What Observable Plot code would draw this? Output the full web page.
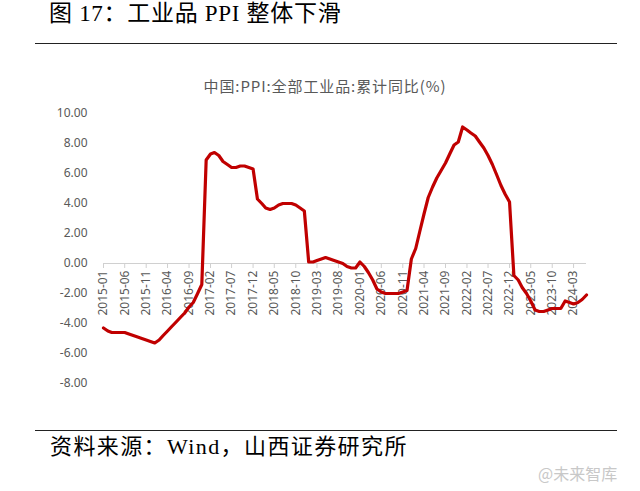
<!DOCTYPE html>
<html>
<head>
<meta charset="utf-8">
<script src="https://cdn.jsdelivr.net/npm/d3@7"></script>
<script src="https://cdn.jsdelivr.net/npm/@observablehq/plot@0.6"></script>
<style>
  html, body { margin: 0; padding: 0; background: #fff; }
  #page { position: relative; width: 640px; height: 491px; overflow: hidden; background: #fff; }
  .abs { position: absolute; white-space: nowrap; }
  #title { left: 49px; top: 0px; font: 23px "Liberation Serif", "Noto Sans CJK SC", serif; color: #000; line-height: 28px; letter-spacing: 0.7px; }
  #rule1 { left: 35px; top: 43px; width: 582px; height: 0; border-top: 1.5px solid #222; }
  #ctitle { left: 0; width: 650px; top: 75px; text-align: center; font: 15px "Noto Sans CJK SC", sans-serif; color: #595959; letter-spacing: 0.9px; }
  #chart { left: 0; top: 100px; }
  #rule2 { left: 35px; top: 430px; width: 582px; height: 0; border-top: 1.5px solid #222; }
  #source { left: 50px; top: 433px; font: 22px "Liberation Serif", "Noto Sans CJK SC", serif; color: #000; line-height: 28px; letter-spacing: 1.4px; }
  #wm { left: 538px; top: 461px; font: 16px "Noto Sans CJK SC", sans-serif; color: #c8c8c8; }
</style>
</head>
<body>
<div id="page">
  <div id="title" class="abs">图 17：工业品 PPI 整体下滑</div>
  <div id="rule1" class="abs"></div>
  <div id="ctitle" class="abs">中国:PPI:全部工业品:累计同比(%)</div>
  <div id="chart" class="abs"></div>
  <div id="rule2" class="abs"></div>
  <div id="source" class="abs">资料来源：Wind，山西证券研究所</div>
  <div id="wm" class="abs">@未来智库</div>
</div>
<script>
// PPI cumulative YoY (%) by year, Jan..Dec
const years = [2015, 2016, 2017, 2018, 2019, 2020, 2021, 2022, 2023, 2024];
const ppi2015 = [-4.3, -4.5, -4.6, -4.6, -4.6, -4.6, -4.7, -4.8, -4.9, -5.0, -5.1, -5.2];
const ppi2016 = [-5.3, -5.1, -4.8, -4.5, -4.2, -3.9, -3.6, -3.3, -2.9, -2.6, -2.0, -1.4];
const ppi2017 = [6.9, 7.3, 7.4, 7.2, 6.8, 6.6, 6.4, 6.4, 6.5, 6.5, 6.4, 6.3];
const ppi2018 = [4.3, 4.0, 3.7, 3.6, 3.7, 3.9, 4.0, 4.0, 4.0, 3.9, 3.7, 3.5];
const ppi2019 = [0.1, 0.1, 0.2, 0.3, 0.4, 0.3, 0.2, 0.1, 0.0, -0.2, -0.3, -0.3];
const ppi2020 = [0.1, -0.2, -0.6, -1.1, -1.7, -1.9, -2.0, -2.0, -2.0, -2.0, -1.9, -1.8];
const ppi2021 = [0.3, 1.0, 2.1, 3.3, 4.4, 5.1, 5.7, 6.2, 6.7, 7.3, 7.9, 8.1];
const ppi2022 = [9.1, 8.9, 8.7, 8.5, 8.1, 7.7, 7.2, 6.6, 5.9, 5.2, 4.6, 4.1];
const ppi2023 = [-0.8, -1.1, -1.6, -2.0, -2.5, -3.1, -3.2, -3.2, -3.1, -3.0, -3.0, -3.0];
const ppi2024 = [-2.5, -2.6, -2.7, -2.6, -2.4, -2.1];
const seriesByYear = [ppi2015, ppi2016, ppi2017, ppi2018, ppi2019, ppi2020, ppi2021, ppi2022, ppi2023, ppi2024];

const xTickLabels = ["2015-01","2015-06","2015-11","2016-04","2016-09","2017-02","2017-07","2017-12",
  "2018-05","2018-10","2019-03","2019-08","2020-01","2020-06","2020-11","2021-04","2021-09",
  "2022-02","2022-07","2022-12","2023-05","2023-10","2024-03"];
const yTicks = [-8, -6, -4, -2, 0, 2, 4, 6, 8, 10];

const parseMonth = d3.utcParse("%Y-%m");
const data = [];
years.forEach((yr, i) => {
  seriesByYear[i].forEach((v, m) => {
    data.push({date: new Date(Date.UTC(yr, m, 1)), value: v});
  });
});
const tickData = xTickLabels.map(s => ({date: parseMonth(s), label: s}));

const chart = Plot.plot({
  width: 640,
  height: 300,
  marginLeft: 103,
  marginRight: 54,
  marginTop: 13,
  marginBottom: 17,
  style: {fontSize: "12px", fontFamily: "'Noto Sans', 'Liberation Sans', sans-serif", color: "#595959", background: "transparent"},
  x: {type: "utc", domain: [data[0].date, data[data.length - 1].date], axis: null},
  y: {domain: [-8, 10], ticks: yTicks, tickFormat: d => d.toFixed(2), tickSize: 0, tickPadding: 16, label: null},
  marks: [
    Plot.ruleY([0], {stroke: "#d0d0d0", strokeWidth: 1}),
    Plot.ruleX(tickData, {x: "date", y1: 0, y2: 0, insetBottom: -5, stroke: "#d0d0d0", strokeWidth: 1}),
    Plot.text(tickData, {x: "date", y: 0, text: "label", rotate: -90, textAnchor: "end", dy: 7, fill: "#595959", fontSize: 12}),
    Plot.line(data, {x: "date", y: "value", stroke: "#C00000", strokeWidth: 3.2, strokeLinejoin: "round", strokeLinecap: "round"})
  ]
});
document.getElementById("chart").appendChild(chart);
</script>
</body>
</html>
